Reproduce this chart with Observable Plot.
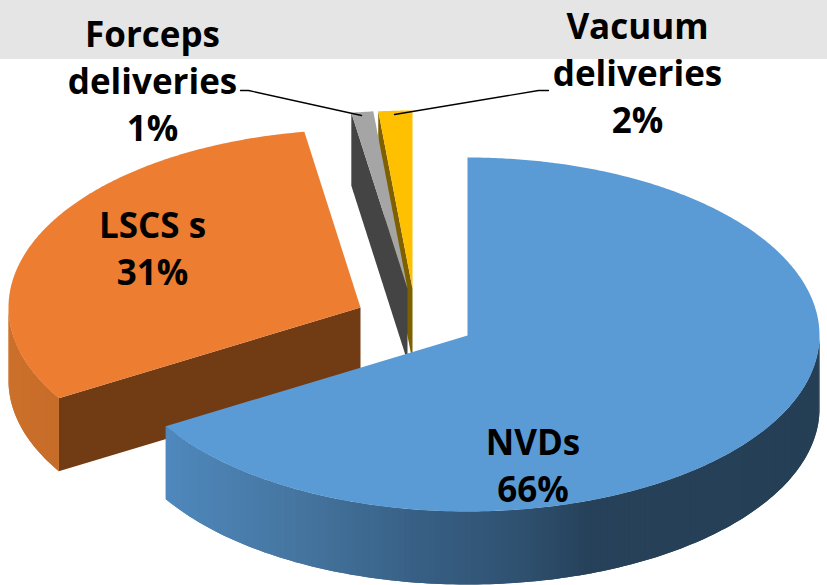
<!DOCTYPE html>
<html>
<head>
<meta charset="utf-8">
<script src="https://cdn.jsdelivr.net/npm/d3@7"></script>
<script src="https://cdn.jsdelivr.net/npm/@observablehq/plot@0.6"></script>
<style>
html,body{margin:0;padding:0;background:#fff}
#chart{position:relative;width:827px;height:585px;overflow:hidden}
#band{position:absolute;left:0;top:0;width:827px;height:59px;background:#e5e5e5}
#chart svg{position:absolute;left:0;top:0;background:transparent}
</style>
</head>
<body>
<div id="chart"><div id="band"></div></div>
<script>
const categories = ["NVDs", "LSCS s", "Forceps deliveries", "Vacuum deliveries"];
const shares = [66.39, 31.06, 1, 1.55];
const shownShares = ["66%", "31%", "1%", "2%"];
const labelText = categories.map((c, i) => (i === 0 || i === 1 ? c : c.replace(" ", "\n")) + "\n" + shownShares[i]);

const topColors = ["#5B9BD5", "#ED7D31", "#A5A5A5", "#FFC000"];
const sideColors = ["#264053", "#713B14", "#444444", "#7F6000"];
const centerX = [467, 360, 407, 412];
const centerY = [335, 307, 288, 288];
const labelX = [532.5, 152, 152, 637];
const labelY = [463, 246, 78.5, 70.5];
const rx = 352, ryBack = 178, ryFront = 176, depth = 73;

const arcs = d3.pie().sort(null).value(d => d)(shares);
const px = (i, a) => centerX[i] + rx * Math.sin(a);
const py = (i, a) => {
  const c = Math.cos(a);
  return centerY[i] - (c > 0 ? ryBack : ryFront) * c;
};
const rad = d => d * Math.PI / 180;

const polys = [];
let pid = 0;
function poly(pts, color) {
  const id = pid++;
  pts.forEach(([x, y]) => polys.push({x, y, id, color}));
}
function topFace(i) {
  const {startAngle: s, endAngle: e} = arcs[i];
  const pts = [[centerX[i], centerY[i]]];
  const n = Math.max(4, Math.ceil((e - s) / rad(0.5)));
  for (let k = 0; k <= n; k++) {
    const a = s + (e - s) * k / n;
    pts.push([px(i, a), py(i, a)]);
  }
  poly(pts, topColors[i]);
}
function radialWall(i, a, color) {
  poly([
    [centerX[i], centerY[i]],
    [px(i, a), py(i, a)],
    [px(i, a), py(i, a) + depth],
    [centerX[i], centerY[i] + depth]
  ], color);
}
// Wall strip: each slice runs on under its neighbour so no seam shows between them.
function outerWall(i, a0, a1, colorOf) {
  const n = Math.ceil(Math.abs(a1 - a0) / rad(1));
  for (let k = 0; k < n; k++) {
    const a = a0 + (a1 - a0) * k / n;
    const mid = a0 + (a1 - a0) * (k + 1) / n;
    const end = a0 + (a1 - a0) * Math.min(k + 2, n) / n;
    const pts = [[px(i, a), py(i, a)], [px(i, mid), py(i, mid)], [px(i, end), py(i, end)],
                 [px(i, end), py(i, end) + depth], [px(i, mid), py(i, mid) + depth], [px(i, a), py(i, a) + depth]];
    poly(pts, colorOf((px(i, a) + px(i, mid)) / 2));
  }
}

const blueSide = d3.scaleLinear()
  .domain([165, 300, 420, 520, 590, 830])
  .range(["#4F88BD", "#45759F", "#375F84", "#2F5170", "#264159", "#253F55"])
  .interpolate(d3.interpolateRgb);
const orangeSide = d3.scaleLinear()
  .domain([8, 58])
  .range(["#CC702B", "#C66C29"])
  .interpolate(d3.interpolateRgb);

// orange
radialWall(1, arcs[1].startAngle, sideColors[1]);
outerWall(1, rad(270), arcs[1].startAngle, orangeSide);
topFace(1);
// yellow
radialWall(3, arcs[3].startAngle, sideColors[3]);
topFace(3);
// grey
radialWall(2, arcs[2].startAngle, sideColors[2]);
topFace(2);
// blue
outerWall(0, rad(90), arcs[0].endAngle, blueSide);
topFace(0);

const leaderForceps = [{x: 240, y: 90}, {x: 248, y: 90}, {x: 361, y: 115}];
const leaderVacuum = [{x: 548, y: 90}, {x: 538, y: 90}, {x: 394, y: 114}];

const labels = categories.map((c, i) => ({text: labelText[i], x: labelX[i], y: labelY[i]}));

const plot = Plot.plot({
  width: 827, height: 585,
  margin: 0,
  x: {domain: [0, 827], range: [0, 827], axis: null},
  y: {domain: [0, 585], range: [0, 585], axis: null},
  color: {type: "identity"},
  style: {background: "transparent"},
  marks: [
    Plot.line(polys, {x: "x", y: "y", z: "id", fill: "color", stroke: "none"}),
    Plot.line(leaderForceps, {x: "x", y: "y", stroke: "#000", strokeWidth: 1.3}),
    Plot.line(leaderVacuum, {x: "x", y: "y", stroke: "#000", strokeWidth: 1.3}),
    Plot.text(labels, {
      x: "x", y: "y", text: "text",
      fontFamily: "'Open Sans'", fontWeight: 700, fontSize: 35,
      lineHeight: 1.35, fill: "#000", lineAnchor: "middle", textAnchor: "middle"
    })
  ]
});
document.getElementById("chart").appendChild(plot);
</script>
</body>
</html>
